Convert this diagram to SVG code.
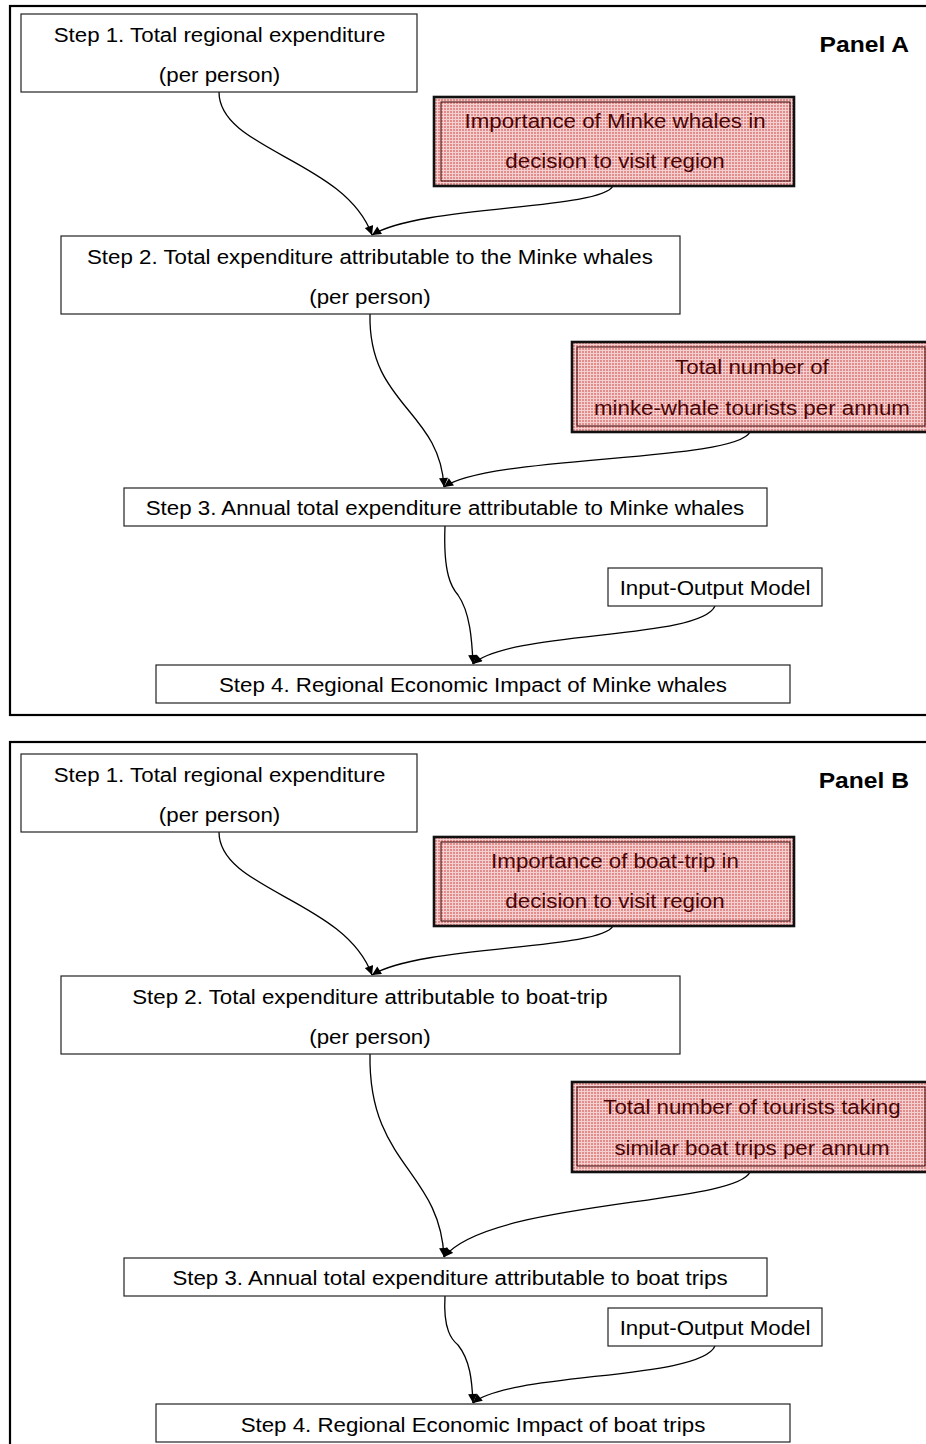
<svg xmlns="http://www.w3.org/2000/svg" width="926" height="1444" viewBox="0 0 926 1444">
<defs>
<pattern id="pk" width="3" height="3" patternUnits="userSpaceOnUse">
<rect width="3" height="3" fill="#f4d0d0"/>
<rect width="2" height="2" fill="#e28c8c"/>
</pattern>
<marker id="arr" viewBox="0 0 10 10" refX="10" refY="5" markerWidth="11" markerHeight="9" orient="auto" markerUnits="userSpaceOnUse">
<path d="M0,0 L10,5 L0,10 z" fill="#000"/>
</marker>
</defs>
<style>
.panel{fill:none;stroke:#000;stroke-width:2.2}
.box{fill:#fff;stroke:#222;stroke-width:1.2}
.pko{fill:url(#pk);stroke:#111;stroke-width:2.6}
.pki{fill:none;stroke:#3a0000;stroke-width:1}
.t{font-family:"Liberation Sans",Arial,sans-serif;font-size:20px;fill:#000;text-anchor:middle;transform:scale(1.115,1)}
.pt{fill:#4a0404}
.lbl{font-family:"Liberation Sans",Arial,sans-serif;font-size:22px;font-weight:bold;fill:#000;text-anchor:end;transform:scale(1.12,1)}
.c{fill:none;stroke:#000;stroke-width:1.3;marker-end:url(#arr)}
</style>
<rect width="926" height="1444" fill="#fff"/>

<g id="panelA">
<rect class="panel" x="10" y="6" width="930" height="709"/>
<text class="lbl" x="811.6" y="52">Panel A</text>
</g>
<g id="panelB">
<rect class="panel" x="10" y="742" width="930" height="720"/>
<text class="lbl" x="811.6" y="788">Panel B</text>
</g>

<g id="connectors">
<path class="c" d="M219,92 C219,150 345,160 372,235"/>
<path class="c" d="M613,186 C600,210 420,205 372,235"/>
<path class="c" d="M370,314 C368,405 440,410 444,487"/>
<path class="c" d="M750,432 C735,462 490,455 444,487"/>
<path class="c" d="M445,526 C443,575 452,588 458,595 C470,612 472,640 473,664"/>
<path class="c" d="M715,606 C700,640 510,630 473,664"/>

<path class="c" d="M219,832 C219,890 345,900 372,975"/>
<path class="c" d="M613,926 C600,950 420,945 372,975"/>
<path class="c" d="M370,1054 C368,1165 440,1170 444,1257"/>
<path class="c" d="M750,1172 C735,1205 490,1200 444,1257"/>
<path class="c" d="M445,1296 C443,1330 452,1340 458,1345 C470,1360 472,1380 473,1403"/>
<path class="c" d="M715,1346 C700,1380 510,1372 473,1403"/>
</g>

<g id="a-step1">
<rect class="box" x="21" y="14" width="396" height="78"/>
<text class="t" x="196.9" y="42">Step 1. Total regional expenditure</text>
<text class="t" x="196.9" y="82">(per person)</text>
</g>
<g id="a-importance">
<rect class="pko" x="434" y="97" width="360" height="89"/>
<rect class="pki" x="441" y="102" width="349" height="79"/>
<text class="t pt" x="551.6" y="128">Importance of Minke whales in</text>
<text class="t pt" x="551.6" y="168">decision to visit region</text>
</g>
<g id="a-step2">
<rect class="box" x="61" y="236" width="619" height="78"/>
<text class="t" x="331.8" y="264">Step 2. Total expenditure attributable to the Minke whales</text>
<text class="t" x="331.8" y="304">(per person)</text>
</g>
<g id="a-tourists">
<rect class="pko" x="572" y="342" width="360" height="90"/>
<rect class="pki" x="577" y="347" width="348" height="79"/>
<text class="t pt" x="674.4" y="374">Total number of</text>
<text class="t pt" x="674.4" y="415">minke-whale tourists per annum</text>
</g>
<g id="a-step3">
<rect class="box" x="124" y="488" width="643" height="38"/>
<text class="t" x="399.1" y="515">Step 3. Annual total expenditure attributable to Minke whales</text>
</g>
<g id="a-io">
<rect class="box" x="608" y="568" width="214" height="38"/>
<text class="t" x="641.3" y="595">Input-Output Model</text>
</g>
<g id="a-step4">
<rect class="box" x="156" y="665" width="634" height="38"/>
<text class="t" x="424.2" y="692">Step 4. Regional Economic Impact of Minke whales</text>
</g>

<g id="b-step1">
<rect class="box" x="21" y="754" width="396" height="78"/>
<text class="t" x="196.9" y="782">Step 1. Total regional expenditure</text>
<text class="t" x="196.9" y="822">(per person)</text>
</g>
<g id="b-importance">
<rect class="pko" x="434" y="837" width="360" height="89"/>
<rect class="pki" x="441" y="842" width="349" height="79"/>
<text class="t pt" x="551.6" y="868">Importance of boat-trip in</text>
<text class="t pt" x="551.6" y="908">decision to visit region</text>
</g>
<g id="b-step2">
<rect class="box" x="61" y="976" width="619" height="78"/>
<text class="t" x="331.8" y="1004">Step 2. Total expenditure attributable to boat-trip</text>
<text class="t" x="331.8" y="1044">(per person)</text>
</g>
<g id="b-tourists">
<rect class="pko" x="572" y="1082" width="360" height="90"/>
<rect class="pki" x="577" y="1087" width="348" height="79"/>
<text class="t pt" x="674.4" y="1114">Total number of tourists taking</text>
<text class="t pt" x="674.4" y="1155">similar boat trips per annum</text>
</g>
<g id="b-step3">
<rect class="box" x="124" y="1258" width="643" height="38"/>
<text class="t" x="403.6" y="1285">Step 3. Annual total expenditure attributable to boat trips</text>
</g>
<g id="b-io">
<rect class="box" x="608" y="1308" width="214" height="38"/>
<text class="t" x="641.3" y="1335">Input-Output Model</text>
</g>
<g id="b-step4">
<rect class="box" x="156" y="1404" width="634" height="38"/>
<text class="t" x="424.2" y="1432">Step 4. Regional Economic Impact of boat trips</text>
</g>
</svg>
